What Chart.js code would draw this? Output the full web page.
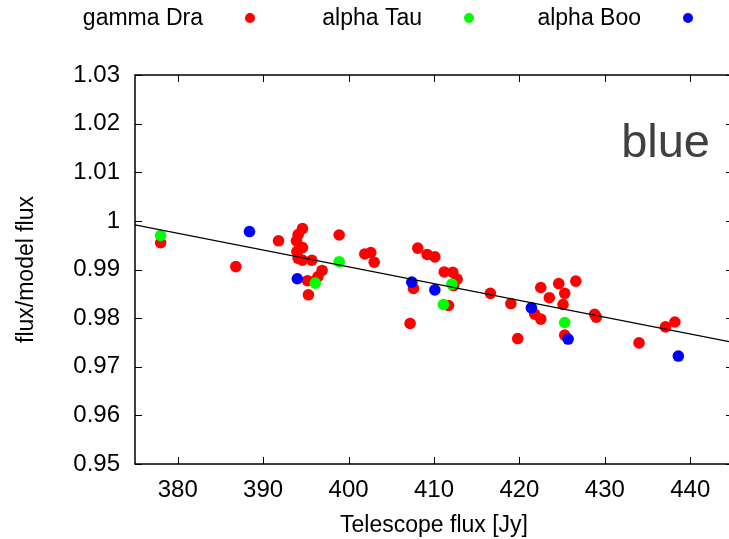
<!DOCTYPE html>
<html>
<head>
<meta charset="utf-8">
<script src="https://cdn.jsdelivr.net/npm/chart.js@4.4.0/dist/chart.umd.min.js"></script>
<style>
html, body { margin: 0; padding: 0; background: #fff; overflow: hidden; }
</style>
</head>
<body>
<canvas id="chart" width="740" height="539"></canvas>
<script>
// values
const gammaDraX = [378.0, 386.8, 391.8, 394.6, 394.1, 393.9, 394.6, 393.95, 394.1, 394.6, 395.7, 398.9,
  396.9, 396.4, 395.2, 395.3, 401.9, 402.6, 403.0, 408.1, 409.2, 410.1, 411.2, 412.2, 412.7, 412.3,
  407.6, 411.7, 407.2, 416.6, 419.0, 421.8, 422.5, 419.8, 422.5, 423.5, 424.6, 426.6, 425.3, 425.1,
  425.3, 428.8, 429.0, 434.0, 437.1, 438.2];
const gammaDraY = [0.9955, 0.9906, 0.9959, 0.9984, 0.9972, 0.9959, 0.9945, 0.9937, 0.9923, 0.9919, 0.9919, 0.9971,
  0.9898, 0.9885, 0.9877, 0.9848, 0.9932, 0.9935, 0.9915, 0.9944, 0.9931, 0.9926, 0.9895, 0.9894, 0.9880, 0.9867,
  0.9861, 0.9826, 0.9789, 0.9851, 0.9830, 0.9808, 0.9798, 0.9758, 0.9863, 0.9842, 0.9871, 0.9876, 0.9851, 0.9828,
  0.9765, 0.9808, 0.9802, 0.9749, 0.9782, 0.9792];

const alphaTauX = [378.0, 398.9, 396.1, 412.1, 411.1, 425.3];
const alphaTauY = [0.9970, 0.9916, 0.9872, 0.9870, 0.9828, 0.9791];

const alphaBooX = [388.4, 394.0, 407.4, 410.1, 421.4, 425.7, 438.6];
const alphaBooY = [0.9978, 0.9881, 0.9874, 0.9858, 0.9821, 0.9757, 0.9722];

const fitX = [375, 445];
const fitY = [0.9992, 0.9750];

const xTicks = [380, 390, 400, 410, 420, 430, 440];
const yTicks = [0.95, 0.96, 0.97, 0.98, 0.99, 1.00, 1.01, 1.02, 1.03];
const yTickLabels = ['0.95', '0.96', '0.97', '0.98', '0.99', '1', '1.01', '1.02', '1.03'];

const seriesNames = ['gamma Dra', 'alpha Tau', 'alpha Boo'];
const seriesColors = ['#ff0000', '#00ff00', '#0000ff'];
const bandLabel = 'blue';

Chart.defaults.font.family = '"Liberation Sans", Arial, sans-serif';
Chart.defaults.color = '#000';

const pts = (xs, ys) => xs.map((x, i) => ({ x: x, y: ys[i] }));

// gnuplot-like box with inward ticks on all sides
const framePlugin = {
  id: 'frame',
  beforeDatasetsDraw(chart) {
    const { ctx, chartArea: a, scales: { x, y } } = chart;
    ctx.save();
    ctx.strokeStyle = '#000';
    ctx.lineWidth = 1;
    ctx.beginPath();
    xTicks.forEach(v => {
      const px = Math.round(x.getPixelForValue(v)) + 0.5;
      ctx.moveTo(px, a.bottom); ctx.lineTo(px, a.bottom - 7);
      ctx.moveTo(px, a.top); ctx.lineTo(px, a.top + 7);
    });
    yTicks.forEach(v => {
      const py = Math.round(y.getPixelForValue(v)) + 0.5;
      ctx.moveTo(a.left, py); ctx.lineTo(a.left + 7, py);
      ctx.moveTo(a.right, py); ctx.lineTo(a.right - 7, py);
    });
    ctx.stroke();
    ctx.lineWidth = 1.5;
    ctx.strokeRect(a.left, a.top, a.right - a.left, a.bottom - a.top);
    ctx.restore();
  },
  afterDraw(chart) {
    const ctx = chart.ctx;
    ctx.save();
    // key: text right-aligned, marker on the right
    ctx.font = '23px "Liberation Sans", Arial, sans-serif';
    ctx.textAlign = 'right';
    ctx.textBaseline = 'middle';
    seriesNames.forEach((name, i) => {
      ctx.fillStyle = '#000';
      ctx.fillText(name, 203 + 219 * i, 19);
      ctx.fillStyle = seriesColors[i];
      ctx.beginPath();
      ctx.arc(250 + 219 * i, 18, 5, 0, Math.PI * 2);
      ctx.fill();
    });
    ctx.font = '47px "Liberation Sans", Arial, sans-serif';
    ctx.fillStyle = '#404040';
    ctx.textBaseline = 'alphabetic';
    ctx.fillText(bandLabel, 710, 157);
    ctx.restore();
  }
};

const scatterSet = (i, xs, ys, order) => ({
  label: seriesNames[i],
  data: pts(xs, ys),
  backgroundColor: seriesColors[i],
  borderWidth: 0,
  pointRadius: 5.8,
  pointHoverRadius: 5.8,
  order: order
});

new Chart(document.getElementById('chart'), {
  type: 'scatter',
  data: {
    datasets: [
      scatterSet(0, gammaDraX, gammaDraY, 3),
      scatterSet(1, alphaTauX, alphaTauY, 2),
      scatterSet(2, alphaBooX, alphaBooY, 1),
      {
        type: 'line',
        label: 'fit',
        data: pts(fitX, fitY),
        borderColor: '#000',
        borderWidth: 1.3,
        pointRadius: 0,
        fill: false,
        order: 0
      }
    ]
  },
  options: {
    responsive: false,
    animation: false,
    devicePixelRatio: 1,
    layout: { padding: { top: 75, right: 7, left: 0, bottom: 0 } },
    plugins: { legend: { display: false }, tooltip: { enabled: false } },
    scales: {
      x: {
        type: 'linear',
        min: 375,
        max: 445,
        afterFit: s => { s.height = 75; },
        afterBuildTicks: s => { s.ticks = xTicks.map(v => ({ value: v })); },
        grid: { display: false, drawTicks: false },
        border: { display: false },
        ticks: { color: '#000', font: { size: 24 }, padding: 12, maxRotation: 0 },
        title: { display: true, text: 'Telescope flux [Jy]', color: '#000', font: { size: 23 }, padding: { top: 0, bottom: 0 } }
      },
      y: {
        type: 'linear',
        min: 0.95,
        max: 1.03,
        afterFit: s => { s.width = 135; },
        afterBuildTicks: s => { s.ticks = yTicks.map(v => ({ value: v })); },
        grid: { display: false, drawTicks: false },
        border: { display: false },
        ticks: { color: '#000', font: { size: 24 }, padding: 15, callback: (v, i) => yTickLabels[i] },
        title: { display: true, text: 'flux/model flux', color: '#000', font: { size: 23 }, padding: { top: 13, bottom: 0 } }
      }
    }
  },
  plugins: [framePlugin]
});
</script>
</body>
</html>
